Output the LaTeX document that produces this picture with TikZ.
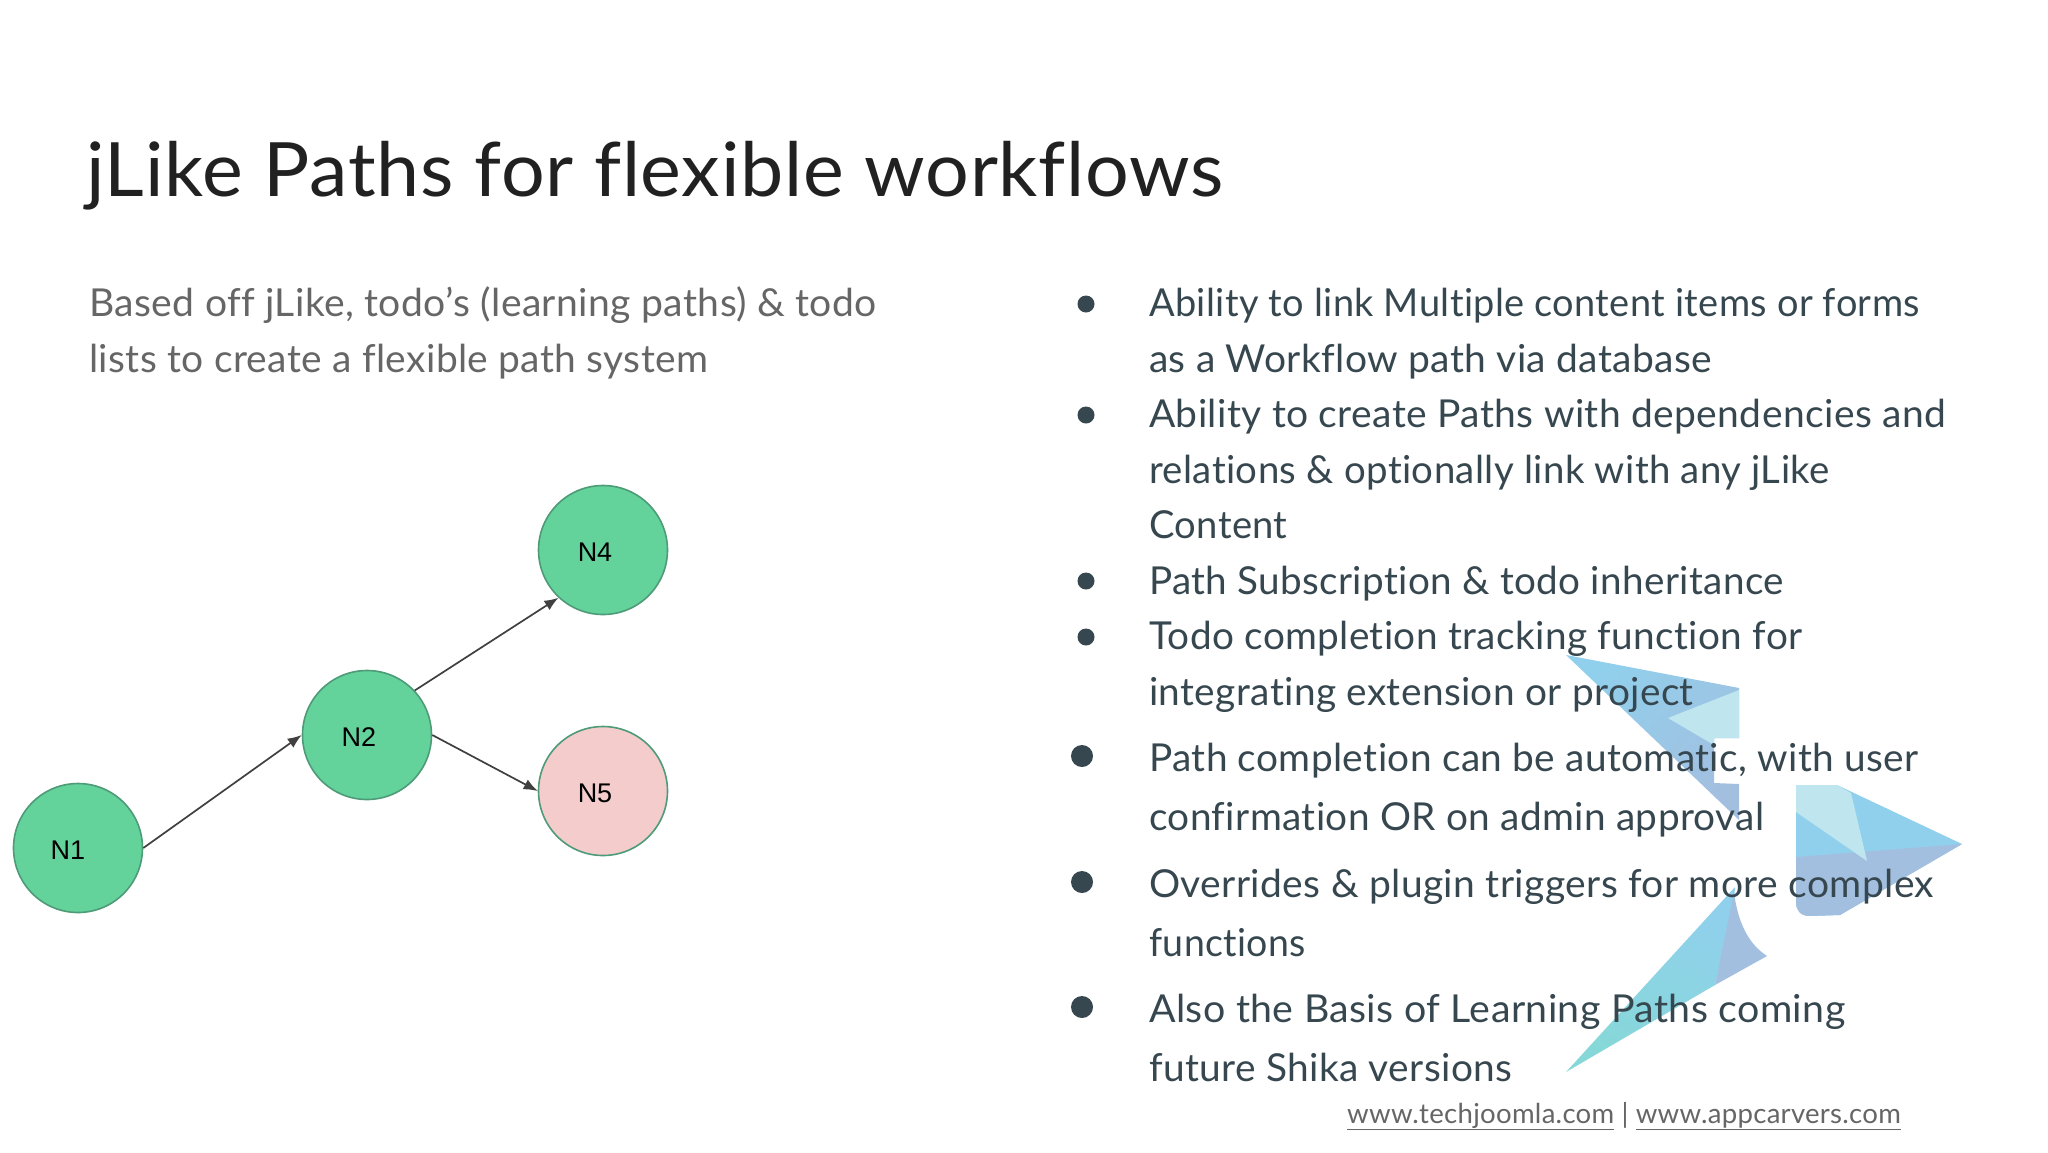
\documentclass[tikz,border=0pt]{standalone}
\usepackage{graphicx}
\usepackage{fontspec}
\setmainfont{Lato}[LetterSpace=1.0,RawFeature={-liga;-dlig;-clig}]
\newfontfamily\labfont{Liberation Sans}
\usetikzlibrary{arrows.meta}
\newcommand{\fitw}[2]{\resizebox{#1pt}{\height}{#2}}
\definecolor{titlec}{HTML}{212121}
\definecolor{subc}{HTML}{666666}
\definecolor{bodyc}{HTML}{37474F}
\definecolor{greenc}{HTML}{64D29B}
\definecolor{greenl}{HTML}{4E9B78}
\definecolor{pinkc}{HTML}{F4CCCC}
\definecolor{bluec}{HTML}{90D0EC}
\definecolor{purc}{HTML}{A3BFE0}
\definecolor{lightc}{HTML}{BFE6EE}
\definecolor{tealc}{HTML}{86D8D8}
\tikzset{
 x=1pt,y=-1pt,
 ttl/.style={anchor=base west,inner sep=0pt,text=titlec,font=\fontsize{75}{75}\selectfont},
 sub/.style={anchor=base west,inner sep=0pt,text=subc,font=\fontsize{38.5}{40}\selectfont},
 bl/.style={anchor=base west,inner sep=0pt,text=bodyc,font=\fontsize{38.5}{40}\selectfont},
 foot/.style={anchor=base west,inner sep=0pt,text=subc,font=\fontsize{27.5}{28}\selectfont},
 circ/.style={circle,minimum size=129pt,inner sep=0pt,draw=greenl,line width=1.6pt,fill=greenc},
 pcirc/.style={circ,fill=pinkc},
 lab/.style={inner sep=0pt,text=black,font=\labfont\fontsize{27}{28}\selectfont},
 arr/.style={draw=black!75,line width=1.7pt,-{Latex[length=14pt,width=11pt]}},
 smalldot/.style={circle,fill=bodyc,inner sep=0pt,minimum size=17pt},
 bigdot/.style={circle,fill=bodyc,inner sep=0pt,minimum size=22pt},
}
\begin{document}
\begin{tikzpicture}
\useasboundingbox (0,0) rectangle (2048,1152);
\fill[white] (0,0) rectangle (2048,1152);
% logo
\shade[top color=bluec,bottom color=purc,shading angle=45] (1566,655) -- (1739,688) -- (1739,738) -- (1714,738) -- (1714,783) -- (1739,784) -- (1739,820) -- cycle;
\fill[lightc] (1668,718) -- (1739,690) -- (1739,738) -- (1714,738) -- (1714,745) -- cycle;
\fill[bluec] (1796,785) -- (1837,785) -- (1962,844) -- (1840,915) -- (1810,916) .. controls (1800,916) and (1796,910) .. (1796,902) -- cycle;
\fill[purc] (1796,857) -- (1962,844) -- (1840,915) -- (1810,916) .. controls (1800,916) and (1796,910) .. (1796,902) -- cycle;
\fill[lightc] (1796,785) -- (1837,785) -- (1851,793) -- (1867,861) -- (1796,812) -- cycle;
\shade[bottom color=tealc,top color=bluec,shading angle=-30] (1566,1072) -- (1735,887) -- (1734,900) -- (1715,985) -- cycle;
\fill[purc] (1734,892) .. controls (1738,925) and (1750,945) .. (1767,956) -- (1715,985) -- cycle;
% diagram
\node[circ] (n1) at (78,848) {};
\node[circ] (n2) at (367,735) {};
\node[circ] (n4) at (603,550) {};
\node[pcirc] (n5) at (603,791) {};
\node[lab] (l1) at (68,850) {N1};
\node[lab] (l2) at (359,737) {N2};
\node[lab] (l4) at (595,552) {N4};
\node[lab] (l5) at (595,793) {N5};
\draw[arr] (n1.east) -- (n2.west);
\draw[arr] (n2.43) -- (n4.-133);
\draw[arr] (n2.east) -- (n5.west);
% title
\node[ttl] (title) at (86,196) {\fitw{1137.6}{jLike Paths for flexible workflows}};
\node[sub] (s1) at (89,316) {\fitw{787.5}{Based off jLike, todo’s (learning paths) \& todo}};
\node[sub] (s2) at (89,372) {\fitw{619}{lists to create a flexible path system}};
% bullets
\node[smalldot] (d1) at (1086,304) {};
\node[smalldot] (d2) at (1086,415) {};
\node[smalldot] (d3) at (1086,581) {};
\node[smalldot] (d4) at (1086,637) {};
\node[bigdot] (d5) at (1082,756) {};
\node[bigdot] (d6) at (1082,882) {};
\node[bigdot] (d7) at (1082,1007) {};
\node[bl] (t1) at (1149,316) {\fitw{770.6}{Ability to link Multiple content items or forms}};
\node[bl] (t2) at (1149,372) {\fitw{562.9}{as a Workflow path via database}};
\node[bl] (t3) at (1149,427) {\fitw{796.7}{Ability to create Paths with dependencies and}};
\node[bl] (t4) at (1149,483) {\fitw{680.4}{relations \& optionally link with any jLike}};
\node[bl] (t5) at (1149,538) {\fitw{138.4}{Content}};
\node[bl] (t6) at (1149,594) {\fitw{634.7}{Path Subscription \& todo inheritance}};
\node[bl] (t7) at (1149,649) {\fitw{653}{Todo completion tracking function for}};
\node[bl] (t8) at (1149,705) {\fitw{544.6}{integrating extension or project}};
\node[bl] (t9) at (1149,771) {\fitw{769.3}{Path completion can be automatic, with user}};
\node[bl] (t10) at (1149,830) {\fitw{615.1}{confirmation OR on admin approval}};
\node[bl] (t11) at (1149,897) {\fitw{784.9}{Overrides \& plugin triggers for more complex}};
\node[bl] (t12) at (1149,956) {\fitw{156.7}{functions}};
\node[bl] (t13) at (1149,1022) {\fitw{696.1}{Also the Basis of Learning Paths coming}};
\node[bl] (t14) at (1149,1081) {\fitw{363.1}{future Shika versions}};
\node[foot] (f) at (1347,1123) {\fitw{553.7}{\underline{www.techjoomla.com} | \underline{www.appcarvers.com}}};
\end{tikzpicture}
\end{document}
